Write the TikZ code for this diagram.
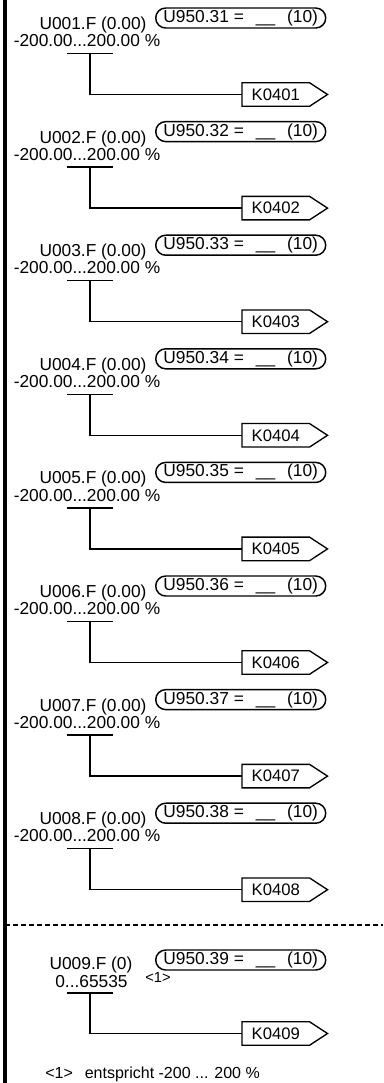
\documentclass[tikz,border=0pt]{standalone}
\usepackage{fontspec}
\setmainfont{Liberation Sans}
\usetikzlibrary{positioning,calc}

\begin{document}
\begin{tikzpicture}[x=0.75pt,y=-0.75pt,
  lbl/.style={inner sep=0pt,font=\fontsize{13}{15}\selectfont},
  pill/.style={draw,line width=1.1pt,rounded corners=7.5pt,minimum width=127.5pt,minimum height=15pt,inner sep=0pt,font=\fontsize{13}{15}\selectfont},
  kbox/.style={minimum width=50.25pt,minimum height=17.25pt,inner sep=0pt,font=\fontsize{12.5}{15}\selectfont},
  note/.style={inner sep=0pt,font=\fontsize{11}{13}\selectfont},
  wire/.style={line width=1pt}]
  \useasboundingbox (0,0) rectangle (383,1083); % 図全体の範囲
  \draw[line width=2.6pt] (5,0) -- (5,1083); % 左端の太い縦線
  \foreach \i in {1,...,8}{
    \pgfmathsetmacro\dy{(\i-1)*113.6}
    \begin{scope}[shift={(0,\dy)}]
      \node[lbl,anchor=base] (u\i) at (93,29.5) {U00\i.F (0.00)}; % パラメータ名
      \node[lbl,anchor=base] (r\i) at (87,46.7) {-200.00...200.00 \%}; % 設定範囲
      \node[pill,anchor=west] (p\i) at (155,18) {U950.3\i{} =\hspace{9pt}\_\_\hspace{9pt}(10)}; % 処理順序
      \coordinate (a\i) at (67,53.5);
      \coordinate (b\i) at (113,53.5);
      \draw[wire] (a\i) -- (b\i); % 出力の下線
      \node[kbox,anchor=west] (k\i) at (242,94.5) {K040\i}; % コネクタ
      \draw[wire] (k\i.north west) -- (k\i.north east) -- ($(k\i.east)+(18,0)$) -- (k\i.south east) -- (k\i.south west) -- cycle; % コネクタの枠
      \draw[wire] ($(a\i)!0.5!(b\i)$) |- (k\i.west); % 下線からコネクタへの線
    \end{scope}
  }
  \coordinate (dl) at (5,925);
  \coordinate (dr) at (383,925);
  \draw[wire,dash pattern=on 3.75pt off 2.25pt] (dl) -- (dr); % 区切りの点線
  \node[lbl,anchor=base] (u9) at (91,969) {U009.F (0)}; % パラメータ名
  \node[lbl,anchor=base] (r9) at (91.5,987) {0...65535}; % 設定範囲
  \node[note,anchor=base] (n9) at (158,982) {<1>}; % 注記番号
  \node[pill,anchor=west] (p9) at (155,960) {U950.39 =\hspace{9pt}\_\_\hspace{9pt}(10)}; % 処理順序
  \coordinate (a9) at (67,993);
  \coordinate (b9) at (113,993);
  \draw[wire] (a9) -- (b9); % 出力の下線
  \node[kbox,anchor=west] (k9) at (242,1033.5) {K0409}; % コネクタ
  \draw[wire] (k9.north west) -- (k9.north east) -- ($(k9.east)+(18,0)$) -- (k9.south east) -- (k9.south west) -- cycle; % コネクタの枠
  \draw[wire] ($(a9)!0.5!(b9)$) |- (k9.west); % 下線からコネクタへの線
  \node[lbl,anchor=base west,font=\fontsize{12}{14}\selectfont] (fn) at (45,1078) {<1>\hspace{9pt}entspricht -200 ... 200 \%}; % 注記
\end{tikzpicture}
\end{document}
